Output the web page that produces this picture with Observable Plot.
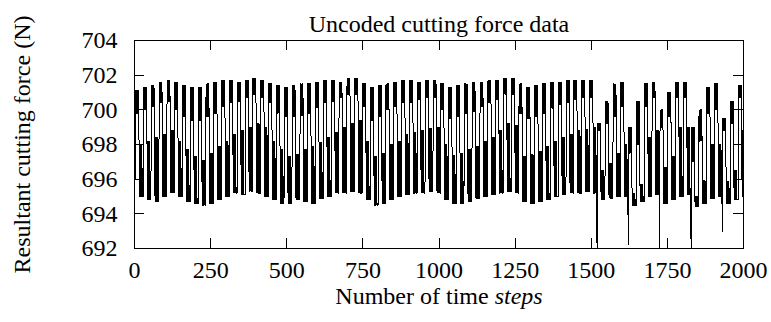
<!DOCTYPE html>
<html><head><meta charset="utf-8">
<script src="https://cdn.jsdelivr.net/npm/d3@7"></script>
<script src="https://cdn.jsdelivr.net/npm/@observablehq/plot@0.6"></script>
<style>body{margin:0;background:#fff}</style>
</head><body><div id="chart"></div>
<script>
const title = "Uncoded cutting force data";
const xLabel = "Number of time steps";
const yLabel = "Resultant cutting force (N)";
const xTicks = [0, 250, 500, 750, 1000, 1250, 1500, 1750, 2000];
const yTicks = [692, 694, 696, 698, 700, 702, 704];

// start step of each tooth-pass cycle
const cycleStart = [
  3, 29, 54, 80, 106, 131, 157, 183, 209, 234,
  260, 286, 311, 337, 363, 388, 414, 440, 466, 491,
  517, 543, 568, 594, 620, 646, 671, 697, 723, 748,
  774, 800, 825, 851, 877, 903, 928, 954, 980, 1005,
  1031, 1057, 1082, 1108, 1134, 1160, 1185, 1211, 1237, 1262,
  1288, 1314, 1339, 1365, 1391, 1417, 1442, 1468, 1494, 1519,
  1545, 1571, 1596, 1622, 1648, 1674, 1699, 1725, 1751, 1776,
  1802, 1828, 1853, 1879, 1905, 1931, 1956, 1982];
// peak force in each cycle (N)
const peak = [
  701.1, 701.3, 701.4, 701.6, 701.7, 701.6, 701.4, 701.3, 701.3, 701.5,
  701.6, 701.7, 701.7, 701.6, 701.7, 701.8, 701.7, 701.5, 701.4, 701.3,
  701.4, 701.5, 701.5, 701.6, 701.7, 701.7, 701.6, 701.8, 701.8, 701.5,
  701.3, 701.4, 701.5, 701.6, 701.7, 701.7, 701.6, 701.7, 701.7, 701.5,
  701.3, 701.4, 701.5, 701.6, 701.6, 701.7, 701.7, 701.8, 701.8, 701.5,
  701.3, 701.4, 701.5, 701.6, 701.6, 701.7, 701.7, 701.7, 701.7, 699.2,
  700.5, 701.5, 701.6, 699.0, 700.5, 701.5, 701.6, 700.0, 701.0, 701.6,
  701.6, 699.0, 700.0, 701.3, 701.5, 699.5, 700.5, 701.4];
// upper edge of the mid band
const bandTop = [
  699.8, 700.0, 700.2, 700.4, 700.5, 700.0, 699.6, 699.4, 699.4, 699.6,
  699.8, 700.2, 700.4, 700.5, 700.7, 700.9, 700.7, 700.4, 699.8, 699.6,
  699.6, 699.7, 699.8, 700.1, 700.4, 700.5, 700.7, 700.9, 700.9, 700.2,
  699.4, 699.6, 700.0, 700.2, 700.4, 700.4, 700.6, 700.7, 700.7, 700.0,
  699.5, 699.6, 699.8, 699.9, 700.2, 700.4, 700.6, 700.9, 700.9, 699.8,
  699.5, 699.6, 699.8, 700.1, 700.3, 700.4, 700.6, 700.7, 700.7, 698.8,
  699.2, 699.6, 700.2, 697.5, 698.0, 700.2, 700.7, 699.0, 699.6, 700.7,
  700.7, 697.0, 698.2, 699.8, 700.0, 698.8, 699.2, 700.7];
// lower edge of the mid band
const bandBottom = [
  698.0, 698.2, 698.4, 698.6, 698.8, 698.2, 697.7, 697.3, 697.1, 697.5,
  697.9, 698.2, 698.6, 698.8, 699.0, 699.2, 699.0, 698.2, 697.7, 697.3,
  697.4, 697.7, 697.9, 698.1, 698.4, 698.7, 699.0, 699.2, 699.4, 698.2,
  697.3, 697.5, 698.0, 698.2, 698.6, 698.7, 698.8, 698.9, 699.0, 698.0,
  697.4, 697.5, 697.7, 697.9, 698.2, 698.4, 698.8, 699.2, 699.1, 697.3,
  697.4, 697.6, 697.9, 698.2, 698.4, 698.6, 698.8, 698.9, 699.0, 696.5,
  696.9, 697.5, 698.0, 695.2, 695.7, 698.4, 698.8, 696.7, 697.3, 699.0,
  699.0, 695.0, 695.9, 698.0, 698.0, 695.9, 696.5, 698.8];
// trough force in each cycle (N)
const trough = [
  695.0, 694.8, 694.7, 695.0, 695.2, 695.0, 694.7, 694.6, 694.5, 694.6,
  694.8, 695.0, 695.2, 695.1, 695.3, 695.2, 695.0, 694.8, 694.6, 694.6,
  694.8, 694.7, 694.6, 694.9, 695.0, 695.2, 695.2, 695.3, 695.2, 694.8,
  694.5, 694.6, 694.8, 695.0, 695.1, 695.2, 695.2, 695.3, 695.2, 694.8,
  694.6, 694.6, 694.7, 694.9, 695.0, 695.1, 695.2, 695.3, 695.2, 694.7,
  694.6, 694.7, 694.8, 695.0, 695.1, 695.2, 695.2, 695.3, 695.2, 694.8,
  694.9, 695.0, 695.0, 694.5, 694.7, 695.0, 695.1, 694.6, 694.8, 695.0,
  695.1, 694.4, 694.6, 694.9, 695.0, 694.6, 694.8, 695.0];
// minimum just before each cycle's rise (deep dips after step 1500)
const dip = [
  696.0, 695.0, 694.8, 694.7, 695.0, 695.2, 695.0, 694.7, 694.6, 694.5,
  694.6, 694.8, 695.0, 695.2, 695.1, 695.3, 695.2, 695.0, 694.8, 694.6,
  694.6, 694.8, 694.7, 694.6, 694.9, 695.0, 695.2, 695.2, 695.3, 695.2,
  694.8, 694.5, 694.6, 694.8, 695.0, 695.1, 695.2, 695.2, 695.3, 695.2,
  694.8, 694.6, 694.6, 694.7, 694.9, 695.0, 695.1, 695.2, 695.3, 695.2,
  694.7, 694.6, 694.7, 694.8, 695.0, 695.1, 695.2, 695.2, 695.3, 692.0,
  694.8, 694.9, 695.0, 692.2, 694.5, 694.7, 695.0, 692.0, 694.6, 694.8,
  695.0, 692.0, 694.4, 694.6, 694.9, 693.0, 694.6, 694.8];

// vertices of one cycle: offset in steps and which read value it takes
const shapeOffsets = [0, 1, 2.5, 4, 5.5, 7, 8.5, 10, 12, 13.5, 15, 16.5, 18, 19.5, 21, 22.5, 24];
const shapeKeys = ["dip","peak","top","peak","top","peak","top","peak","bot","trough","bot","trough","bot","trough","bot","trough","trough"];

const series = {dip, peak, top: bandTop, bot: bandBottom, trough};
const points = [];
cycleStart.forEach((t0, k) => {
  shapeOffsets.forEach((o, j) => {
    points.push({t: t0 + o, v: series[shapeKeys[j]][k]});
  });
});

const chart = Plot.plot({
  width: 771, height: 322,
  marginLeft: 134, marginRight: 28, marginTop: 40, marginBottom: 74,
  style: {fontFamily: "'Liberation Serif', 'Times New Roman', serif", fontSize: "24px", background: "#fff", color: "#000"},
  x: {domain: [0, 2000]},
  y: {domain: [692, 704]},
  marks: [
    Plot.line(points, {x: "t", y: "v", stroke: "#000", strokeWidth: 1, shapeRendering: "crispEdges", clip: true}),
    Plot.frame({stroke: "#000", shapeRendering: "crispEdges"}),
    Plot.tickX(xTicks, {x: d => d, insetBottom: 198, stroke: "#000", shapeRendering: "crispEdges"}),
    Plot.tickX(xTicks, {x: d => d, insetTop: 198, stroke: "#000", shapeRendering: "crispEdges"}),
    Plot.tickY(yTicks, {y: d => d, insetRight: 599, stroke: "#000", shapeRendering: "crispEdges"}),
    Plot.tickY(yTicks, {y: d => d, insetLeft: 599, stroke: "#000", shapeRendering: "crispEdges"}),
    Plot.axisX(xTicks, {tickSize: 0, tickPadding: 12, tickFormat: d => String(d), label: null}),
    Plot.axisY(yTicks, {tickSize: 0, tickPadding: 17, tickFormat: d => String(d), label: null}),
    Plot.text([title], {text: d => d, frameAnchor: "top", dy: -9, lineAnchor: "bottom", textAnchor: "middle", letterSpacing: "1px"}),
    Plot.text([xLabel], {text: d => d, frameAnchor: "bottom", dy: 55, lineAnchor: "bottom", textAnchor: "middle"}),
    Plot.text([yLabel], {text: d => d, frameAnchor: "left", dx: -112, rotate: -90, textAnchor: "middle", lineAnchor: "middle"})
  ]
});
document.getElementById("chart").appendChild(chart);
d3.select(chart).selectAll("text").filter(function() { return this.textContent === xLabel; })
  .each(function() {
    const el = d3.select(this);
    el.text("");
    el.append("tspan").text("Number of time ");
    el.append("tspan").attr("font-style", "italic").text("steps");
  });
</script>
</body></html>
